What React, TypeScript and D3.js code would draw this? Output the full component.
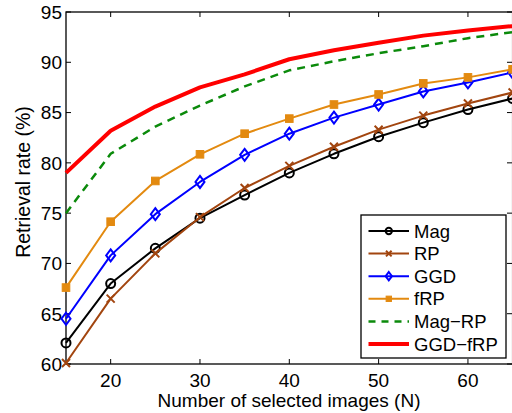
import React, { useEffect, useRef } from 'react';
import * as d3 from 'd3';

const nValues = [15, 20, 25, 30, 35, 40, 45, 50, 55, 60, 65];
const magValues = [62.1, 68.0, 71.5, 74.5, 76.8, 79.0, 80.9, 82.6, 84.0, 85.3, 86.4];
const rpValues = [60.1, 66.5, 71.0, 74.6, 77.5, 79.7, 81.6, 83.3, 84.7, 85.9, 87.0];
const ggdValues = [64.5, 70.8, 74.9, 78.1, 80.8, 82.9, 84.5, 85.8, 87.1, 88.0, 89.0];
const frpValues = [67.6, 74.15, 78.2, 80.85, 82.9, 84.4, 85.8, 86.8, 87.9, 88.5, 89.3];
const magRpValues = [75.0, 80.9, 83.6, 85.7, 87.6, 89.2, 90.1, 90.9, 91.6, 92.4, 93.0];
const ggdFrpValues = [79.0, 83.2, 85.6, 87.5, 88.8, 90.3, 91.2, 91.95, 92.65, 93.15, 93.6];

const xTicks = [20, 30, 40, 50, 60];
const yTicks = [60, 65, 70, 75, 80, 85, 90, 95];

const seriesList = [
  { name: 'Mag', values: magValues, color: '#000000', width: 2, marker: 'circle', dash: null },
  { name: 'RP', values: rpValues, color: '#a2450f', width: 2, marker: 'cross', dash: null },
  { name: 'GGD', values: ggdValues, color: '#0000ff', width: 2, marker: 'diamond', dash: null },
  { name: 'fRP', values: frpValues, color: '#e38a10', width: 2, marker: 'square', dash: null },
  { name: 'Mag\u2212RP', values: magRpValues, color: '#0b8a0b', width: 2.5, marker: null, dash: '8,6' },
  { name: 'GGD\u2212fRP', values: ggdFrpValues, color: '#ff0000', width: 4, marker: null, dash: null },
];

const W = 512;
const H = 413;
const font = 'Liberation Sans, Arial, sans-serif';

function drawMarker(g: any, kind: string, x: number, y: number, color: string, s: number) {
  if (kind === 'circle') {
    g.append('circle').attr('cx', x).attr('cy', y).attr('r', 4.5 * s)
      .attr('fill', 'none').attr('stroke', color).attr('stroke-width', 2);
  } else if (kind === 'cross') {
    const d = 4 * s;
    g.append('path')
      .attr('d', `M${x - d},${y - d}L${x + d},${y + d}M${x - d},${y + d}L${x + d},${y - d}`)
      .attr('stroke', color).attr('stroke-width', 2).attr('fill', 'none');
  } else if (kind === 'diamond') {
    const w = 4.5 * s, h = 6 * s;
    g.append('path')
      .attr('d', `M${x},${y - h}L${x + w},${y}L${x},${y + h}L${x - w},${y}Z`)
      .attr('fill', 'none').attr('stroke', color).attr('stroke-width', 2);
  } else if (kind === 'square') {
    const d = 3.8 * s;
    g.append('rect').attr('x', x - d).attr('y', y - d).attr('width', 2 * d).attr('height', 2 * d)
      .attr('fill', color).attr('stroke', color).attr('stroke-width', 1);
  }
}

export default function App() {
  const svgRef = useRef<SVGSVGElement>(null);

  useEffect(() => {
    const svg = d3.select(svgRef.current);
    svg.selectAll('*').remove();

    const left = 66, right = 512.6, top = 12, bottom = 364;
    const x = d3.scaleLinear().domain([15, 65]).range([left, right]);
    const y = d3.scaleLinear().domain([60, 95]).range([bottom, top]);

    svg.append('rect').attr('width', W).attr('height', H).attr('fill', '#fff');

    svg.append('defs').append('clipPath').attr('id', 'plotclip')
      .append('rect').attr('x', left - 6).attr('y', top - 6)
      .attr('width', right - left + 12).attr('height', bottom - top + 12);

    const axes = svg.append('g');
    // box
    axes.append('rect').attr('x', left).attr('y', top)
      .attr('width', right - left).attr('height', bottom - top)
      .attr('fill', 'none').attr('stroke', '#000').attr('stroke-width', 1.3);

    // ticks
    xTicks.forEach((t) => {
      axes.append('line').attr('x1', x(t)).attr('x2', x(t)).attr('y1', bottom).attr('y2', bottom - 5)
        .attr('stroke', '#000').attr('stroke-width', 1);
      axes.append('line').attr('x1', x(t)).attr('x2', x(t)).attr('y1', top).attr('y2', top + 5)
        .attr('stroke', '#000').attr('stroke-width', 1);
      axes.append('text').attr('x', x(t)).attr('y', bottom + 23)
        .attr('text-anchor', 'middle').attr('font-family', font).attr('font-size', 19)
        .text(t);
    });
    yTicks.forEach((t) => {
      axes.append('line').attr('x1', left).attr('x2', left + 5).attr('y1', y(t)).attr('y2', y(t))
        .attr('stroke', '#000').attr('stroke-width', 1);
      axes.append('line').attr('x1', 512).attr('x2', 507).attr('y1', y(t)).attr('y2', y(t))
        .attr('stroke', '#000').attr('stroke-width', 1);
      axes.append('text').attr('x', left - 4).attr('y', y(t)).attr('dy', '0.36em')
        .attr('text-anchor', 'end').attr('font-family', font).attr('font-size', 19)
        .text(t);
    });

    axes.append('text').attr('x', 289).attr('y', 407)
      .attr('text-anchor', 'middle').attr('font-family', font).attr('font-size', 19)
      .text('Number of selected images (N)');
    axes.append('text').attr('transform', `translate(30,182) rotate(-90)`)
      .attr('text-anchor', 'middle').attr('font-family', font).attr('font-size', 19.5)
      .text('Retrieval rate (%)');

    const plot = svg.append('g').attr('clip-path', 'url(#plotclip)');
    const line = d3.line<number>().x((_, i) => x(nValues[i])).y((d) => y(d));

    seriesList.forEach((s) => {
      const p = plot.append('path').attr('d', line(s.values))
        .attr('fill', 'none').attr('stroke', s.color).attr('stroke-width', s.width)
        .attr('stroke-linejoin', 'round');
      if (s.dash) p.attr('stroke-dasharray', s.dash);
      if (s.marker) {
        s.values.forEach((v, i) => drawMarker(plot, s.marker as string, x(nValues[i]), y(v), s.color, 1));
      }
    });

    // legend
    const lg = svg.append('g');
    lg.append('rect').attr('x', 361).attr('y', 215).attr('width', 145).attr('height', 143)
      .attr('fill', '#fff').attr('stroke', '#000').attr('stroke-width', 1.3);
    seriesList.forEach((s, i) => {
      const ly = 231 + i * 22.6;
      const l = lg.append('line').attr('x1', 368.5).attr('x2', 409).attr('y1', ly).attr('y2', ly)
        .attr('stroke', s.color).attr('stroke-width', s.width);
      if (s.dash) l.attr('stroke-dasharray', '7,6');
      if (s.marker) drawMarker(lg, s.marker, 388.8, ly, s.color, 0.7);
      lg.append('text').attr('x', 414).attr('y', ly).attr('dy', '0.36em')
        .attr('font-family', font).attr('font-size', 18.5).text(s.name);
    });
  }, []);

  return (
    <div style={{ position: 'fixed', left: 0, top: 0 }}>
      <svg ref={svgRef} width={W} height={H} style={{ display: 'block' }}></svg>
    </div>
  );
}
